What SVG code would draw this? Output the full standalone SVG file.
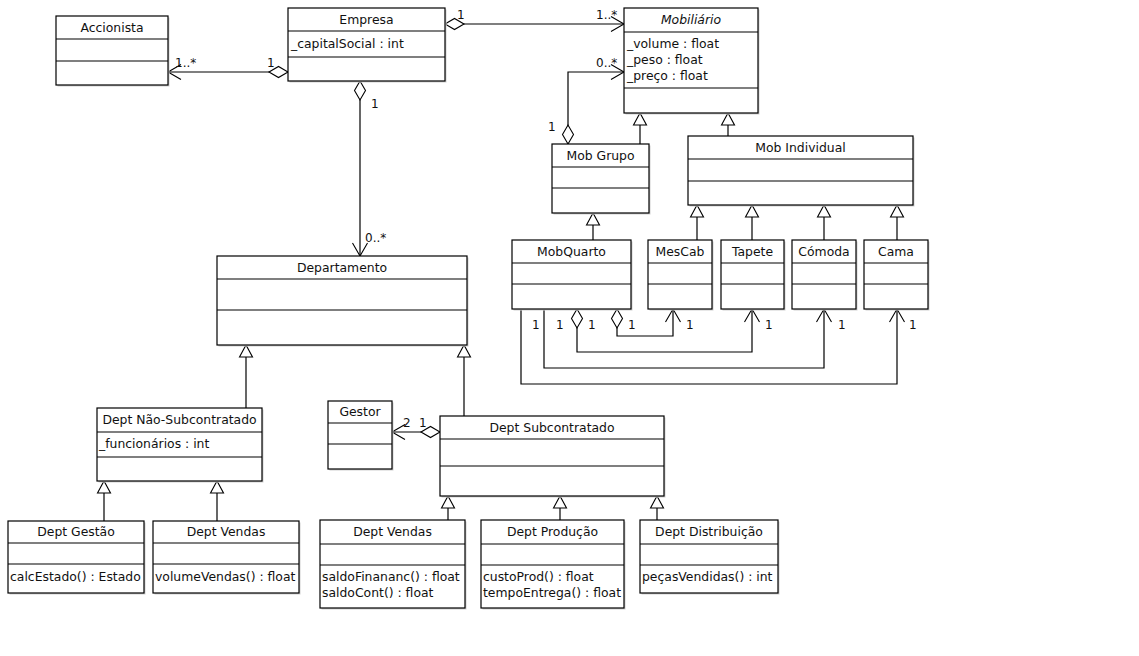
<svg xmlns="http://www.w3.org/2000/svg" width="1139" height="656" viewBox="0 0 1139 656">
<style>
.box rect.b{fill:#fff;stroke:#000;stroke-width:1.2}
.box rect.s{fill:#d0d0d0;stroke:none}
.box line{stroke:#000;stroke-width:1.2}
text{font-family:"DejaVu Sans","Liberation Sans",sans-serif;font-size:12.4px;fill:#111}
.t{text-anchor:middle}
.i{font-style:italic}
.lbl{font-size:12px}
.c path{fill:none;stroke:#000;stroke-width:1.2}
</style>
<defs>
<marker id="tri" markerUnits="userSpaceOnUse" markerWidth="16" markerHeight="16" viewBox="-2 -8 16 16" refX="12" refY="0" orient="auto">
<path d="M0,-6.5 L12,0 L0,6.5 Z" fill="#fff" stroke="#000" stroke-width="1.1"/>
</marker>
<marker id="dia" markerUnits="userSpaceOnUse" markerWidth="22" markerHeight="14" viewBox="-1 -7 22 14" refX="0" refY="0" orient="auto">
<path d="M0,0 L9.5,-5.5 L19,0 L9.5,5.5 Z" fill="#fff" stroke="#000" stroke-width="1.1"/>
</marker>
<marker id="arr" markerUnits="userSpaceOnUse" markerWidth="18" markerHeight="18" viewBox="-15 -9 18 18" refX="0" refY="0" orient="auto">
<path d="M-13,-7.5 L0,0 L-13,7.5" fill="none" stroke="#000" stroke-width="1.1"/>
</marker>
</defs>
<rect width="1139" height="656" fill="#fff"/>

<g class="c" id="connectors">
<path d="M288,72 L168,72" marker-start="url(#dia)" marker-end="url(#arr)"/>
<path d="M445,24 L624,24" marker-start="url(#dia)" marker-end="url(#arr)"/>
<path d="M360,81 L360,256" marker-start="url(#dia)" marker-end="url(#arr)"/>
<path d="M568,144 L568,72 L624,72" marker-start="url(#dia)" marker-end="url(#arr)"/>
<path d="M440,432 L392,432" marker-start="url(#dia)" marker-end="url(#arr)"/>
<path d="M521,309 L521,384 L897,384 L897,309" marker-end="url(#arr)"/>
<path d="M544,309 L544,368 L824,368 L824,309" marker-end="url(#arr)"/>
<path d="M577,309 L577,352 L752,352 L752,309" marker-start="url(#dia)" marker-end="url(#arr)"/>
<path d="M617,309 L617,336 L673,336 L673,309" marker-start="url(#dia)" marker-end="url(#arr)"/>
<path d="M640,144 L640,113" marker-end="url(#tri)"/>
<path d="M728,136 L728,113" marker-end="url(#tri)"/>
<path d="M593,240 L593,213" marker-end="url(#tri)"/>
<path d="M697,240 L697,205" marker-end="url(#tri)"/>
<path d="M752,240 L752,205" marker-end="url(#tri)"/>
<path d="M824,240 L824,205" marker-end="url(#tri)"/>
<path d="M897,240 L897,205" marker-end="url(#tri)"/>
<path d="M246,408 L246,345" marker-end="url(#tri)"/>
<path d="M464,416 L464,345" marker-end="url(#tri)"/>
<path d="M104,521 L104,481" marker-end="url(#tri)"/>
<path d="M217,521 L217,481" marker-end="url(#tri)"/>
<path d="M448,520 L448,496" marker-end="url(#tri)"/>
<path d="M560,520 L560,496" marker-end="url(#tri)"/>
<path d="M657,520 L657,496" marker-end="url(#tri)"/>
<g id="labels">
<text class="lbl" x="175" y="67">1..*</text>
<text class="lbl" x="267" y="67">1</text>
<text class="lbl" x="457" y="19">1</text>
<text class="lbl" x="596" y="19">1..*</text>
<text class="lbl" x="596" y="67">0..*</text>
<text class="lbl" x="548" y="131">1</text>
<text class="lbl" x="371" y="108">1</text>
<text class="lbl" x="365" y="242">0..*</text>
<text class="lbl" x="403" y="427">2</text>
<text class="lbl" x="419" y="427">1</text>
<text class="lbl" x="532" y="329">1</text>
<text class="lbl" x="556" y="329">1</text>
<text class="lbl" x="588" y="329">1</text>
<text class="lbl" x="628" y="329">1</text>
<text class="lbl" x="686" y="329">1</text>
<text class="lbl" x="765" y="329">1</text>
<text class="lbl" x="838" y="329">1</text>
<text class="lbl" x="909" y="329">1</text>
</g>
</g>

<g class="box" id="Accionista">
<rect class="s" x="57.5" y="17.5" width="112" height="69"/><rect class="b" x="56" y="16" width="112" height="69"/>
<line x1="56" y1="39" x2="168" y2="39"/><line x1="56" y1="61" x2="168" y2="61"/>
<text class="t" x="112" y="32">Accionista</text>
</g>
<g class="box" id="Empresa">
<rect class="s" x="289.5" y="9.5" width="157" height="73"/><rect class="b" x="288" y="8" width="157" height="73"/>
<line x1="288" y1="31" x2="445" y2="31"/><line x1="288" y1="57" x2="445" y2="57"/>
<text class="t" x="366.5" y="24">Empresa</text>
<text x="291" y="48">_capitalSocial : int</text>
</g>
<g class="box" id="Mobiliario">
<rect class="s" x="625.5" y="9.5" width="134" height="105"/><rect class="b" x="624" y="8" width="134" height="105"/>
<line x1="624" y1="32" x2="758" y2="32"/><line x1="624" y1="88" x2="758" y2="88"/>
<text class="t i" x="691" y="24">Mobiliário</text>
<text x="627" y="48">_volume : float</text>
<text x="627" y="64">_peso : float</text>
<text x="627" y="80">_preço : float</text>
</g>
<g class="box" id="MobGrupo">
<rect class="s" x="553.5" y="145.5" width="97" height="69"/><rect class="b" x="552" y="144" width="97" height="69"/>
<line x1="552" y1="167" x2="649" y2="167"/><line x1="552" y1="188" x2="649" y2="188"/>
<text class="t" x="600.5" y="160">Mob Grupo</text>
</g>
<g class="box" id="MobIndividual">
<rect class="s" x="689.5" y="137.5" width="225" height="69"/><rect class="b" x="688" y="136" width="225" height="69"/>
<line x1="688" y1="159" x2="913" y2="159"/><line x1="688" y1="181" x2="913" y2="181"/>
<text class="t" x="800.5" y="152">Mob Individual</text>
</g>
<g class="box" id="MobQuarto">
<rect class="s" x="513.5" y="241.5" width="119" height="69"/><rect class="b" x="512" y="240" width="119" height="69"/>
<line x1="512" y1="263" x2="631" y2="263"/><line x1="512" y1="284" x2="631" y2="284"/>
<text class="t" x="571.5" y="256">MobQuarto</text>
</g>
<g class="box" id="MesCab">
<rect class="s" x="649.5" y="241.5" width="64" height="69"/><rect class="b" x="648" y="240" width="64" height="69"/>
<line x1="648" y1="263" x2="712" y2="263"/><line x1="648" y1="284" x2="712" y2="284"/>
<text class="t" x="680" y="256">MesCab</text>
</g>
<g class="box" id="Tapete">
<rect class="s" x="722.5" y="241.5" width="63" height="69"/><rect class="b" x="721" y="240" width="63" height="69"/>
<line x1="721" y1="263" x2="784" y2="263"/><line x1="721" y1="284" x2="784" y2="284"/>
<text class="t" x="752.5" y="256">Tapete</text>
</g>
<g class="box" id="Comoda">
<rect class="s" x="793.5" y="241.5" width="64" height="69"/><rect class="b" x="792" y="240" width="64" height="69"/>
<line x1="792" y1="263" x2="856" y2="263"/><line x1="792" y1="284" x2="856" y2="284"/>
<text class="t" x="824" y="256">Cómoda</text>
</g>
<g class="box" id="Cama">
<rect class="s" x="865.5" y="241.5" width="64" height="69"/><rect class="b" x="864" y="240" width="64" height="69"/>
<line x1="864" y1="263" x2="928" y2="263"/><line x1="864" y1="284" x2="928" y2="284"/>
<text class="t" x="896" y="256">Cama</text>
</g>
<g class="box" id="Departamento">
<rect class="s" x="218.5" y="257.5" width="250" height="89"/><rect class="b" x="217" y="256" width="250" height="89"/>
<line x1="217" y1="279" x2="467" y2="279"/><line x1="217" y1="310" x2="467" y2="310"/>
<text class="t" x="342" y="272">Departamento</text>
</g>
<g class="box" id="DeptNaoSub">
<rect class="s" x="98.5" y="409.5" width="165" height="73"/><rect class="b" x="97" y="408" width="165" height="73"/>
<line x1="97" y1="432" x2="262" y2="432"/><line x1="97" y1="457" x2="262" y2="457"/>
<text class="t" x="179.5" y="424">Dept Não-Subcontratado</text>
<text x="99" y="448">_funcionários : int</text>
</g>
<g class="box" id="Gestor">
<rect class="s" x="329.5" y="402.5" width="64" height="68"/><rect class="b" x="328" y="401" width="64" height="68"/>
<line x1="328" y1="423" x2="392" y2="423"/><line x1="328" y1="444" x2="392" y2="444"/>
<text class="t" x="360" y="416">Gestor</text>
</g>
<g class="box" id="DeptSub">
<rect class="s" x="441.5" y="417.5" width="224" height="80"/><rect class="b" x="440" y="416" width="224" height="80"/>
<line x1="440" y1="439" x2="664" y2="439"/><line x1="440" y1="466" x2="664" y2="466"/>
<text class="t" x="552" y="432">Dept Subcontratado</text>
</g>
<g class="box" id="DeptGestao">
<rect class="s" x="9.5" y="522.5" width="136" height="72"/><rect class="b" x="8" y="521" width="136" height="72"/>
<line x1="8" y1="543" x2="144" y2="543"/><line x1="8" y1="564" x2="144" y2="564"/>
<text class="t" x="76" y="536">Dept Gestão</text>
<text x="10" y="581">calcEstado() : Estado</text>
</g>
<g class="box" id="DeptVendasA">
<rect class="s" x="154.5" y="522.5" width="146" height="72"/><rect class="b" x="153" y="521" width="146" height="72"/>
<line x1="153" y1="543" x2="299" y2="543"/><line x1="153" y1="564" x2="299" y2="564"/>
<text class="t" x="226" y="536">Dept Vendas</text>
<text x="155" y="581">volumeVendas() : float</text>
</g>
<g class="box" id="DeptVendasB">
<rect class="s" x="321.5" y="521.5" width="145" height="88"/><rect class="b" x="320" y="520" width="145" height="88"/>
<line x1="320" y1="544" x2="465" y2="544"/><line x1="320" y1="565" x2="465" y2="565"/>
<text class="t" x="392.5" y="536">Dept Vendas</text>
<text x="322" y="581">saldoFinananc() : float</text>
<text x="322" y="597">saldoCont() : float</text>
</g>
<g class="box" id="DeptProducao">
<rect class="s" x="482.5" y="521.5" width="143" height="88"/><rect class="b" x="481" y="520" width="143" height="88"/>
<line x1="481" y1="544" x2="624" y2="544"/><line x1="481" y1="565" x2="624" y2="565"/>
<text class="t" x="552.5" y="536">Dept Produção</text>
<text x="483" y="581">custoProd() : float</text>
<text x="483" y="597">tempoEntrega() : float</text>
</g>
<g class="box" id="DeptDistribuicao">
<rect class="s" x="641.5" y="521.5" width="138" height="73"/><rect class="b" x="640" y="520" width="138" height="73"/>
<line x1="640" y1="544" x2="778" y2="544"/><line x1="640" y1="565" x2="778" y2="565"/>
<text class="t" x="709" y="536">Dept Distribuição</text>
<text x="642" y="581">peçasVendidas() : int</text>
</g>
</svg>
